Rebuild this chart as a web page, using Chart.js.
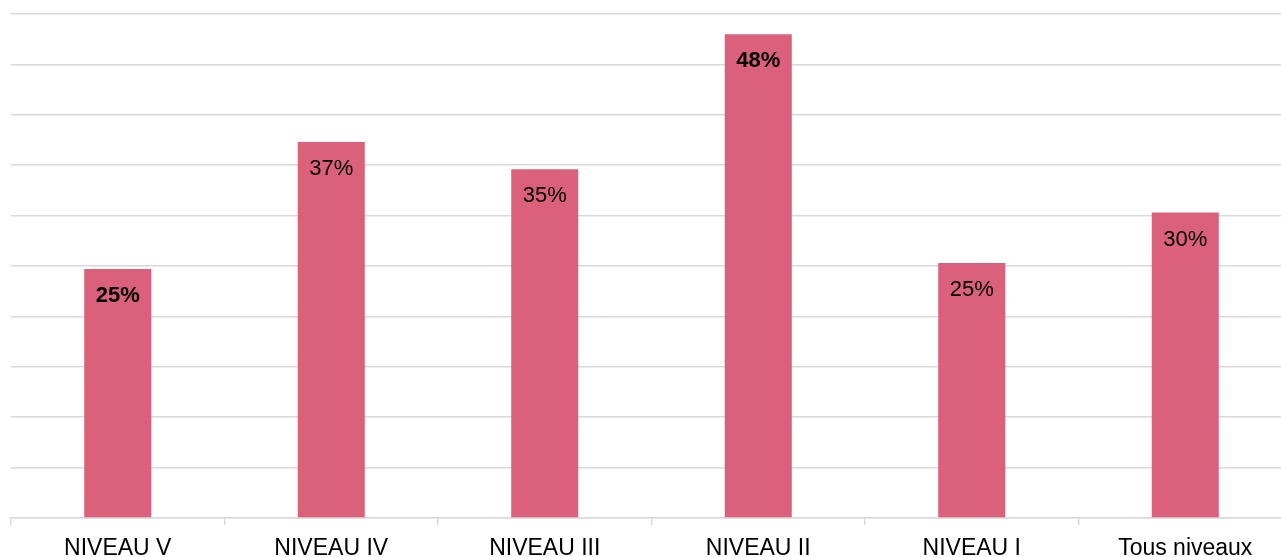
<!DOCTYPE html>
<html>
<head>
<meta charset="utf-8">
<script src="https://cdn.jsdelivr.net/npm/chart.js@4/dist/chart.umd.min.js"></script>
<style>
  html, body { margin: 0; padding: 0; background: #fff; overflow: hidden; }
  #wrap { width: 1292px; height: 557px; position: relative; }
</style>
</head>
<body>
<div id="wrap"><canvas id="niveaux_chart"></canvas></div>
<script>
// categories and values (percent)
var categories = ['NIVEAU V', 'NIVEAU IV', 'NIVEAU III', 'NIVEAU II', 'NIVEAU I', 'Tous niveaux'];
var values = [24.7, 37.3, 34.6, 48.0, 25.3, 30.3];
var bold_labels = [true, false, false, true, false, false];
var y_max = 50;
var y_step = 5;

var bar_color = 'rgb(218, 96, 124)';
var grid_color = '#d9d9d9';

// draws the % labels inside the top of each bar
var valueLabels = {
  id: 'valueLabels',
  afterDatasetsDraw: function (chart) {
    var ctx = chart.ctx;
    var meta = chart.getDatasetMeta(0);
    ctx.save();
    ctx.fillStyle = '#000';
    ctx.textAlign = 'center';
    ctx.textBaseline = 'middle';
    meta.data.forEach(function (bar, i) {
      ctx.font = (bold_labels[i] ? 'bold ' : '') + '22px "Liberation Sans", Arial, sans-serif';
      ctx.fillText(Math.round(values[i]) + '%', bar.x, bar.y + 27);
    });
    ctx.restore();
  }
};

var niveaux_ctx = document.getElementById('niveaux_chart').getContext('2d');
var niveaux_chart = new Chart(niveaux_ctx, {
  type: 'bar',
  data: {
    labels: categories,
    datasets: [{
      data: values,
      backgroundColor: bar_color,
      borderWidth: 0,
      categoryPercentage: 1,
      barPercentage: 0.314
    }]
  },
  options: {
    responsive: true,
    maintainAspectRatio: false,
    animation: false,
    layout: { padding: { left: 11, top: 14, right: 0, bottom: 0 } },
    plugins: {
      legend: { display: false },
      tooltip: { enabled: false }
    },
    scales: {
      x: {
        grid: {
          display: true,
          drawOnChartArea: false,
          drawTicks: true,
          tickLength: 7,
          color: grid_color,
          lineWidth: 1.5
        },
        border: { display: true, color: grid_color, width: 1.5 },
        ticks: {
          color: '#000',
          padding: 10,
          font: { family: '"Liberation Sans", Arial, sans-serif', size: 23 }
        },
        afterFit: function (scale) { scale.height = 39; }
      },
      y: {
        min: 0,
        max: y_max,
        ticks: { display: false, stepSize: y_step },
        grid: { color: grid_color, lineWidth: 1.5, drawTicks: false },
        border: { display: false }
      }
    }
  },
  plugins: [valueLabels]
});
</script>
</body>
</html>
